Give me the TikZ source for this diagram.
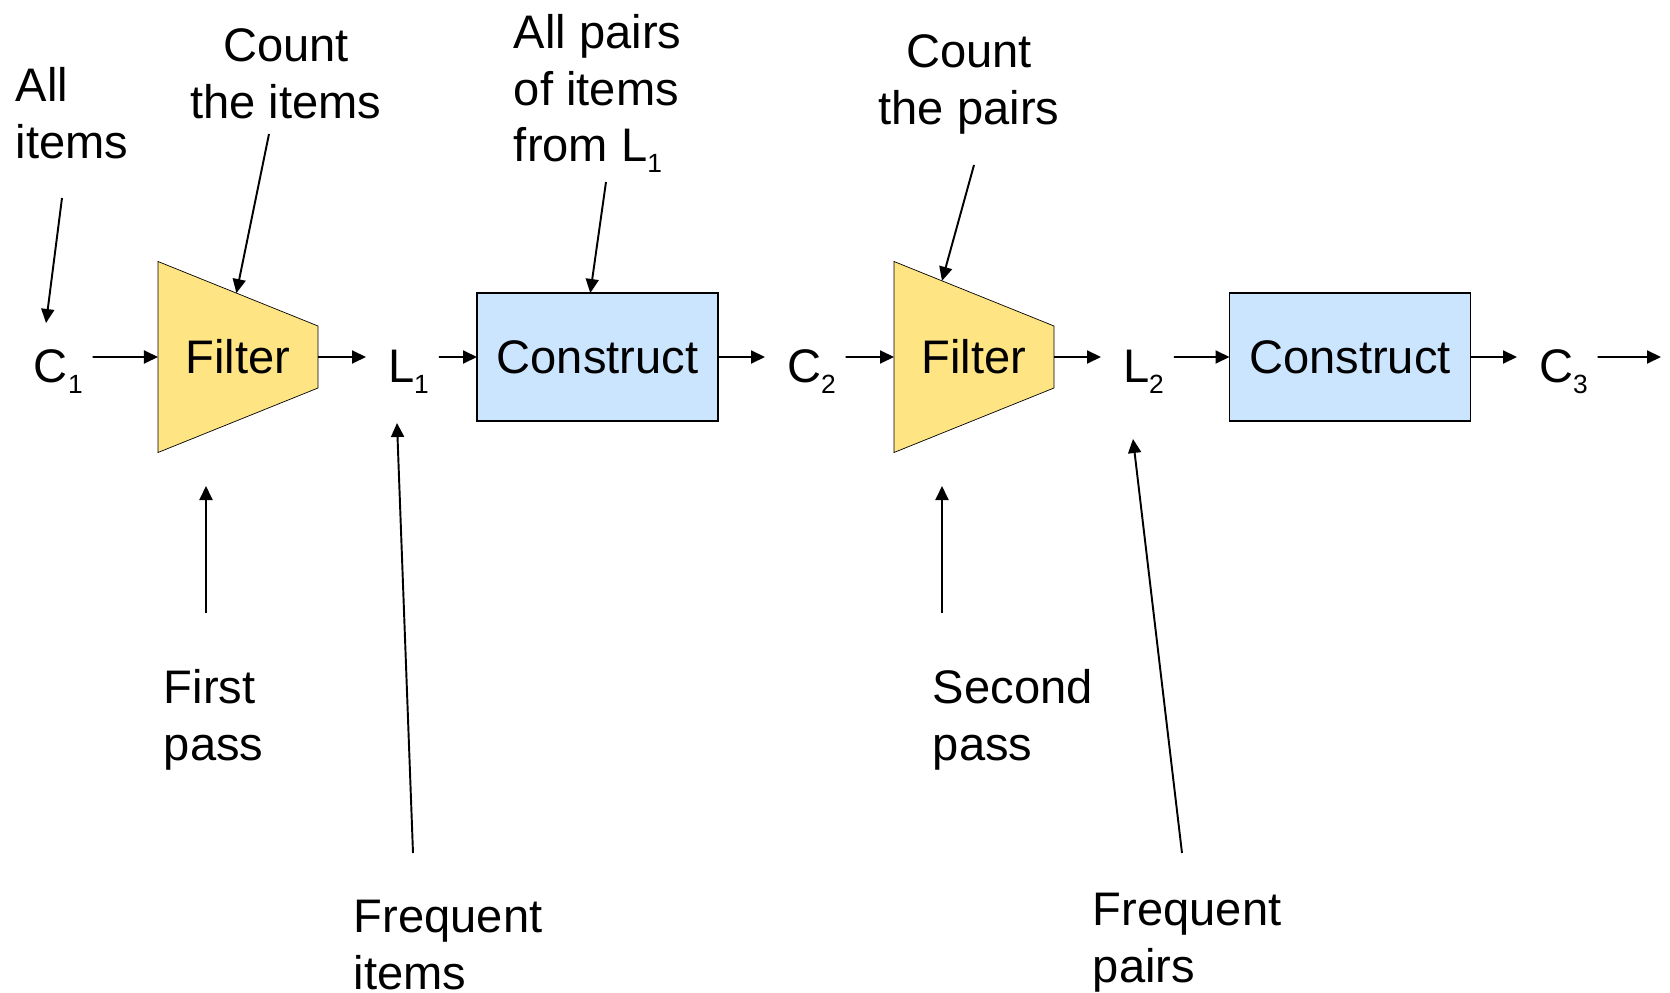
\documentclass[tikz,border=0pt]{standalone}
\usepackage{fontspec}
\setmainfont{Liberation Sans}
\usepackage{tikz}
\usetikzlibrary{arrows.meta}
\usetikzlibrary{calc}
\usetikzlibrary{backgrounds}
\definecolor{filteryellow}{RGB}{255,228,132}
\definecolor{constructblue}{RGB}{204,229,255}
\newcommand{\lowidx}[1]{\raisebox{-2.2mm}{\fontsize{15}{15}\selectfont #1}}
\tikzset{
    arr/.style={draw=black, -{Triangle[length=2.8mm,width=2.6mm]}},
    bigtext/.style={font=\fontsize{26.8}{32.4}\selectfont, inner sep=0pt},
    setname/.style={bigtext, text height=10.4mm, text depth=0pt, outer xsep=2mm,
        anchor=base west, execute at begin node={\hspace*{2.4mm}}},
    filterbox/.style={bigtext, outer sep=0pt, minimum width=32mm, minimum height=38.2mm},
    constructbox/.style={bigtext, draw=black, fill=constructblue, outer sep=0pt,
        minimum width=48.2mm, minimum height=25.6mm},
    callout/.style={bigtext, align=left, anchor=north west},
    calloutc/.style={bigtext, align=center, anchor=north},
}
\begin{document}
\begin{tikzpicture}[line width=1.1pt, x=0.2mm, y=-0.2mm]
	\useasboundingbox (0,0) rectangle (1670,993);
	% the chain of passes
	\node[setname] (c1) at (12,383) {C\lowidx{1}};
	\node[filterbox] (f1) at (238,357) {Filter};
	\node[setname] (l1) at (366,383) {L\lowidx{1}};
	\node[constructbox] (k1) at (597.5,357) {Construct};
	\node[setname] (c2) at (765,383) {C\lowidx{2}};
	\node[filterbox] (f2) at (974,357) {Filter};
	\node[setname] (l2) at (1101,383) {L\lowidx{2}};
	\node[constructbox] (k2) at (1350,357) {Construct};
	\node[setname] (c3) at (1517,383) {C\lowidx{3}};
	\coordinate (more) at (1661,357);
	\begin{scope}[on background layer]
		\foreach \f in {f1,f2}
			\draw[fill=filteryellow] (\f.north west) -- ($(\f.east)+(0,-31)$)
				-- ($(\f.east)+(0,31)$) -- (\f.south west) -- cycle;
	\end{scope}
	\draw[arr] (c1) -- (f1);
	\draw[arr] (f1) -- (l1);
	\draw[arr] (l1) -- (k1);
	\draw[arr] (k1) -- (c2);
	\draw[arr] (c2) -- (f2);
	\draw[arr] (f2) -- (l2);
	\draw[arr] (l2) -- (k2);
	\draw[arr] (k2) -- (c3);
	\draw[arr] (c3) -- (more);
%
	% labels above
	\node[callout] (allitems) at (15,66) {All\\items};
	\node[calloutc] (countitems) at (286,28) {Count\\the items};
	\node[callout] (allpairs) at (513,13) {All pairs\\of items\\from L\lowidx{1}};
	\node[calloutc] (countpairs) at (969,34) {Count\\the pairs};
	\coordinate (aitail) at (62,198);
	\coordinate (aitip) at (46,323);
	\coordinate (citail) at (269,134);
	\coordinate (citip) at ($(f1.north west)!0.49!($(f1.east)+(0,-31)$)$);
	\coordinate (aptail) at (606,182);
	\coordinate (aptip) at ($(k1.north west)!0.47!(k1.north east)$);
	\coordinate (cptail) at (974,165);
	\coordinate (cptip) at ($(f2.north west)!0.3!($(f2.east)+(0,-31)$)$);
	\draw[arr] (aitail) -- (aitip);
	\draw[arr] (citail) -- (citip);
	\draw[arr] (aptail) -- (aptip);
	\draw[arr] (cptail) -- (cptip);
%
	% labels below
	\node[callout] (firstpass) at (163,668) {First\\pass};
	\node[callout] (freqitems) at (353,899) {Frequent\\items};
	\node[callout] (secondpass) at (932,668) {Second\\pass};
	\node[callout] (freqpairs) at (1092,892) {Frequent\\pairs};
	\coordinate (fptail) at (206,613);
	\coordinate (fptip) at (206,486);
	\coordinate (fitail) at (413,853);
	\coordinate (fitip) at (397,423);
	\coordinate (sptail) at (942,613);
	\coordinate (sptip) at (942,486);
	\coordinate (frtail) at (1182,853);
	\coordinate (frtip) at (1133,439);
	\draw[arr] (fptail) -- (fptip);
	\draw[arr] (fitail) -- (fitip);
	\draw[arr] (sptail) -- (sptip);
	\draw[arr] (frtail) -- (frtip);
\end{tikzpicture}
\end{document}
